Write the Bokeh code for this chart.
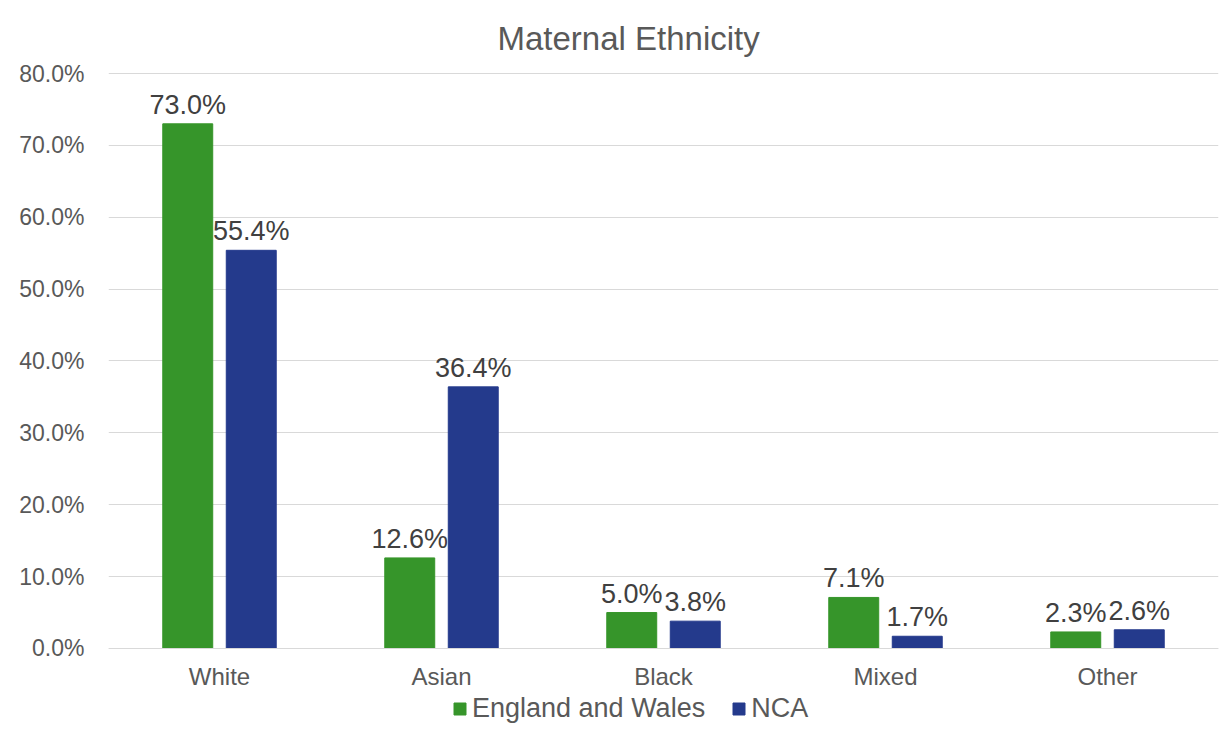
from bokeh.plotting import figure
from bokeh.models import (ColumnDataSource, FactorRange, NumeralTickFormatter,
                          Legend, LegendItem, Title, FixedTicker)
from bokeh.transform import dodge
from bokeh.core.properties import value
from bokeh.embed import file_html
from bokeh.resources import INLINE

categories = ["White", "Asian", "Black", "Mixed", "Other"]
england_wales = [73.0, 12.6, 5.0, 7.1, 2.3]
nca = [55.4, 36.4, 3.8, 1.7, 2.6]
y_ticks = [0, 10, 20, 30, 40, 50, 60, 70, 80]

GREEN = "#36952a"
BLUE = "#243a8c"
FONT = "Liberation Sans"

src = ColumnDataSource(dict(
    cat=categories,
    ew=[v / 100 for v in england_wales],
    nca=[v / 100 for v in nca],
    ew_lbl=[f"{v:.1f}%" for v in england_wales],
    nca_lbl=[f"{v:.1f}%" for v in nca],
))

# the frame reaches the bottom of the canvas; the category axis sits at y=0
# and the legend is drawn in the space underneath it
p = figure(x_range=FactorRange(*categories, range_padding=0),
           y_range=(-0.1183, 0.8014),
           width=1221, height=733, output_backend="svg", toolbar_location=None,
           min_border_left=108, min_border_right=3, min_border_top=72,
           min_border_bottom=0)
p.outline_line_color = None
p.background_fill_color = "white"

bw = 0.225
r1 = p.vbar(x=dodge("cat", -0.143, range=p.x_range), top="ew", bottom=0,
            width=bw, source=src, color=GREEN)
r2 = p.vbar(x=dodge("cat", 0.143, range=p.x_range), top="nca", bottom=0,
            width=bw, source=src, color=BLUE)

# value labels above each bar
for col, lbl, off in (("ew", "ew_lbl", -0.143), ("nca", "nca_lbl", 0.143)):
    p.text(x=dodge("cat", off, range=p.x_range), y=col, text=lbl, source=src,
           text_align="center", text_baseline="bottom", y_offset=-4,
           text_font=value(FONT), text_font_size="27px", text_color="#404040")

# axes
p.yaxis.ticker = FixedTicker(ticks=[t / 100 for t in y_ticks])
p.yaxis.formatter = NumeralTickFormatter(format="0.0%")
p.yaxis.axis_line_color = None
p.yaxis.major_tick_line_color = None
p.yaxis.minor_tick_line_color = None
p.yaxis.major_label_standoff = 18
p.yaxis.major_label_text_font = FONT
p.yaxis.major_label_text_font_size = "23px"
p.yaxis.major_label_text_color = "#595959"

p.xaxis.fixed_location = 0
p.xaxis.axis_line_color = "#d9d9d9"
p.xaxis.major_tick_line_color = None
p.xaxis.minor_tick_line_color = None
p.xaxis.major_label_standoff = 9
p.xaxis.major_label_text_font = FONT
p.xaxis.major_label_text_font_size = "24px"
p.xaxis.major_label_text_color = "#595959"

p.xgrid.grid_line_color = None
p.ygrid.grid_line_color = "#d9d9d9"

# title
p.add_layout(Title(text="Maternal  Ethnicity", align="left", offset=389,
                   standoff=31, text_font=FONT, text_font_size="33px",
                   text_font_style="normal", text_color="#595959"), "above")

legend = Legend(items=[LegendItem(label="England and Wales", renderers=[r1]),
                       LegendItem(label="NCA", renderers=[r2])],
                orientation="horizontal", location=(344, 9),
                label_text_font=FONT, label_text_font_size="27px",
                label_text_color="#595959", glyph_width=15, glyph_height=15,
                label_standoff=5, spacing=26,
                background_fill_alpha=0, border_line_color=None,
                padding=0, margin=0)
p.add_layout(legend, "center")

open("out.html", "w").write(file_html(p, INLINE))
